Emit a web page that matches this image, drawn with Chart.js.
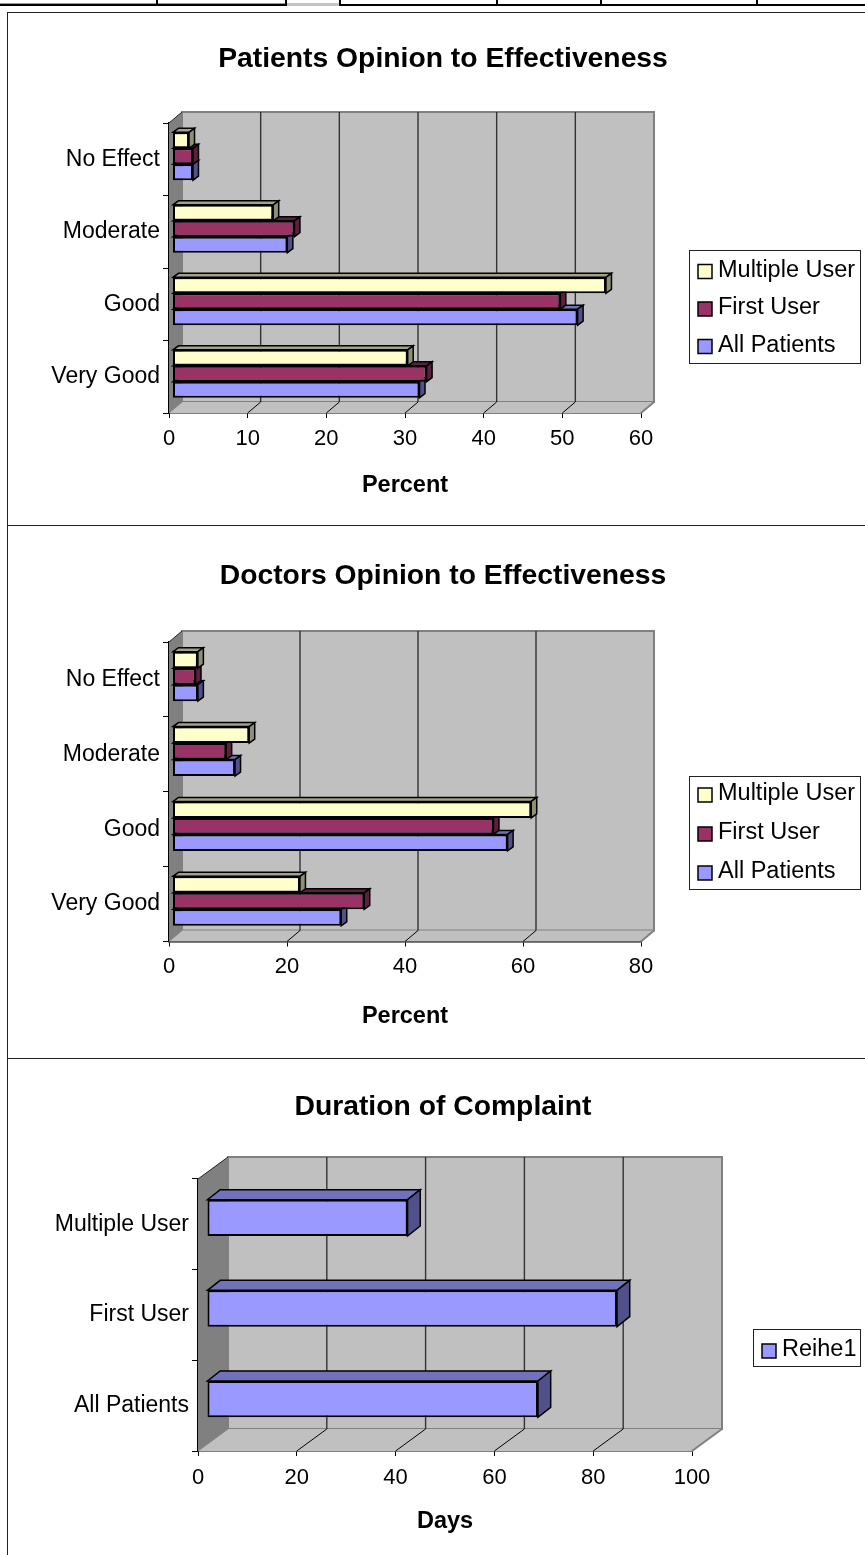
<!DOCTYPE html>
<html>
<head>
<meta charset="utf-8">
<title>Opinion to Effectiveness</title>
<script src="https://cdn.jsdelivr.net/npm/chart.js@4"></script>
<style>
  html, body { margin: 0; padding: 0; background: #fff; }
  body { position: relative; width: 865px; height: 1555px; overflow: hidden; }
  canvas { position: absolute; left: 21px; }
  .rule { position: absolute; }
</style>
</head>
<body>
<div class="rule" style="left:0;top:3px;width:285px;height:1px;background:#999"></div>
<div class="rule" style="left:0;top:4px;width:287px;height:2px;background:#000"></div>
<div class="rule" style="left:156px;top:0;width:2px;height:5px;background:#000"></div>
<div class="rule" style="left:285px;top:0;width:2px;height:5px;background:#000"></div>
<div class="rule" style="left:287px;top:3px;width:52px;height:3px;background:#c4c4c4"></div>
<div class="rule" style="left:339px;top:0;width:2px;height:5px;background:#000"></div>
<div class="rule" style="left:339px;top:4px;width:526px;height:2px;background:#000"></div>
<div class="rule" style="left:496px;top:0;width:2px;height:5px;background:#000"></div>
<div class="rule" style="left:600px;top:0;width:2px;height:5px;background:#000"></div>
<div class="rule" style="left:756px;top:0;width:2px;height:5px;background:#000"></div>
<div class="rule" style="left:7px;top:12px;width:858px;height:1px;background:#222"></div>
<div class="rule" style="left:7px;top:12px;width:1px;height:1543px;background:#222"></div>
<div class="rule" style="left:7px;top:525px;width:858px;height:1px;background:#222"></div>
<div class="rule" style="left:7px;top:1058px;width:858px;height:1px;background:#222"></div>

<canvas id="patients" width="844" height="511" style="top:14px"></canvas>
<canvas id="doctors" width="844" height="531" style="top:527px"></canvas>
<canvas id="duration" width="844" height="495" style="top:1060px"></canvas>

<script>
// top to bottom, the way the bars stack on the page
const opinionLabels = ["No Effect", "Moderate", "Good", "Very Good"];
const seriesNames = ["Multiple User", "First User", "All Patients"];

const patientsMultiple = [2.1, 12.8, 55.1, 29.9];
const patientsFirst = [2.6, 15.5, 49.3, 32.3];
const patientsAll = [2.6, 14.6, 51.5, 31.4];

const doctorsMultiple = [4.3, 13.0, 60.8, 21.6];
const doctorsFirst = [3.9, 9.1, 54.4, 32.5];
const doctorsAll = [4.3, 10.6, 56.8, 28.6];

const durationLabels = ["Multiple User", "First User", "All Patients"];
const durationDays = [40.6, 83, 67];

const FONT = "'Liberation Sans', Arial, sans-serif";
const FACES = {
  "#ffffcc": { top: "#a3a385", side: "#8f8f75" },
  "#993366": { top: "#5c1f3d", side: "#5c1f3d" },
  "#9999ff": { top: "#7272bc", side: "#50508a" }
};

function poly(ctx, pts, fill, stroke, lw) {
  ctx.beginPath();
  pts.forEach((p, i) => i ? ctx.lineTo(p[0], p[1]) : ctx.moveTo(p[0], p[1]));
  ctx.closePath();
  if (fill) { ctx.fillStyle = fill; ctx.fill(); }
  if (stroke) { ctx.strokeStyle = stroke; ctx.lineWidth = lw; ctx.stroke(); }
}

// back wall, side wall and floor behind the bars
function drawWalls(chart, f) {
  const { ctx, chartArea: a, scales: { x } } = chart;
  const [dx, dy] = f.wall;
  ctx.save();
  poly(ctx, [[a.left + dx, a.top - dy], [a.right + dx, a.top - dy], [a.right + dx, a.bottom - dy], [a.left + dx, a.bottom - dy]], "#c0c0c0", "#808080", 2);
  poly(ctx, [[a.left, a.bottom], [a.right, a.bottom], [a.right + dx, a.bottom - dy], [a.left + dx, a.bottom - dy]], "#c0c0c0", null, 0);
  ctx.strokeStyle = "#808080"; ctx.lineWidth = 2;
  ctx.beginPath(); ctx.moveTo(a.right, a.bottom); ctx.lineTo(a.right + dx, a.bottom - dy); ctx.stroke();
  poly(ctx, [[a.left, a.top], [a.left + dx, a.top - dy], [a.left + dx, a.bottom - dy], [a.left, a.bottom]], "#808080", null, 0);
  ctx.strokeStyle = "#222"; ctx.lineWidth = 1;
  ctx.beginPath(); ctx.moveTo(a.left, a.top); ctx.lineTo(a.left + dx, a.top - dy); ctx.stroke();
  ctx.beginPath(); ctx.moveTo(a.left, a.bottom); ctx.lineTo(a.left + dx, a.bottom - dy); ctx.strokeStyle = "#808080"; ctx.stroke();
  x.ticks.forEach((t) => {
    if (t.value === x.min || t.value === x.max) return;
    const px = x.getPixelForValue(t.value);
    ctx.strokeStyle = "#333"; ctx.lineWidth = 1.4;
    ctx.beginPath(); ctx.moveTo(px + dx, a.top - dy); ctx.lineTo(px + dx, a.bottom - dy); ctx.stroke();
    ctx.strokeStyle = "#000"; ctx.lineWidth = 1;
    ctx.beginPath(); ctx.moveTo(px, a.bottom); ctx.lineTo(px + dx, a.bottom - dy); ctx.stroke();
  });
  ctx.restore();
}

function drawLegend(chart, f) {
  const { ctx } = chart;
  const [l, t, w, h] = f.legend;
  ctx.save();
  ctx.fillStyle = "#fff"; ctx.fillRect(l, t, w, h);
  ctx.strokeStyle = "#222"; ctx.lineWidth = 1; ctx.strokeRect(l + .5, t + .5, w - 1, h - 1);
  ctx.font = "23.5px " + FONT; ctx.textBaseline = "middle";
  chart.data.datasets.forEach((ds, i) => {
    const cy = t + f.legendFirst + i * f.legendStep;
    ctx.fillStyle = ds.backgroundColor; ctx.fillRect(l + 9, cy - 6, 14, 14);
    ctx.strokeStyle = "#000"; ctx.lineWidth = 1.5; ctx.strokeRect(l + 9, cy - 6, 14, 14);
    ctx.fillStyle = "#000"; ctx.fillText(ds.label, l + 29, cy);
  });
  ctx.restore();
}

const box3d = {
  id: "box3d",
  beforeDatasetsDraw(chart) { drawWalls(chart, chart.options.frame); },
  beforeDatasetDraw(chart, args) {
    const f = chart.options.frame, { ctx } = chart;
    ctx.save();
    ctx.translate(f.barShift[0], f.barShift[1]);
    const [ex, ey] = f.extrude;
    const faces = FACES[chart.data.datasets[args.index].backgroundColor];
    args.meta.data.forEach((bar) => {
      const { x, y, base, height } = bar.getProps(["x", "y", "base", "height"], true);
      const top = y - height / 2, bot = y + height / 2;
      poly(ctx, [[base, top], [x, top], [x + ex, top - ey], [base + ex, top - ey]], faces.top, "#000", 1.5);
      poly(ctx, [[x, top], [x + ex, top - ey], [x + ex, bot - ey], [x, bot]], faces.side, "#000", 1.5);
    });
  },
  afterDatasetDraw(chart) { chart.ctx.restore(); },
  afterDraw(chart) { drawLegend(chart, chart.options.frame); }
};
Chart.register(box3d);

function makeChart(id, title, axisTitle, labels, names, rows, colors, xMax, xStep, f) {
  const canvas = document.getElementById(id);
  const W = canvas.width, H = canvas.height, lh = 34;
  const axisLh = 26;
  return new Chart(canvas, {
    type: "bar",
    data: {
      labels,
      datasets: rows.map((data, i) => ({
        label: names[i], data,
        backgroundColor: colors[i], borderColor: "#000", borderWidth: 2, borderSkipped: false,
        barPercentage: 1, categoryPercentage: f.catShare, clip: false
      }))
    },
    options: {
      indexAxis: "y", responsive: false, animation: false, devicePixelRatio: 1,
      frame: f,
      layout: { padding: 0 },
      plugins: {
        legend: { display: false }, tooltip: { enabled: false },
        title: {
          display: true, text: title, color: "#000",
          font: { family: FONT, size: f.titleSize, weight: "bold", lineHeight: lh / f.titleSize },
          padding: { top: f.titleY - lh / 2, bottom: f.area[1] - f.titleY - lh / 2 }
        }
      },
      scales: {
        x: {
          min: 0, max: xMax,
          ticks: { stepSize: xStep, color: "#000", font: { family: FONT, size: 22 }, padding: f.tickPad, maxRotation: 0 },
          grid: { drawOnChartArea: false, color: "#000", tickLength: 5, lineWidth: 1 },
          border: { color: "#000", width: 1.5 },
          title: {
            display: true, text: axisTitle, color: "#000",
            font: { family: FONT, size: f.axisSize, weight: "bold", lineHeight: axisLh / f.axisSize },
            padding: { top: 0, bottom: H - f.axisY - axisLh / 2 }
          },
          afterFit(s) { s.height = H - f.area[3]; }
        },
        y: {
          ticks: { color: "#000", font: { family: FONT, size: 23 }, padding: 3, autoSkip: false },
          grid: { drawOnChartArea: false, color: "#000", tickLength: 6, lineWidth: 1 },
          border: { color: "#000", width: 1.5 },
          afterFit(s) { s.width = f.area[0]; }
        },
        // empty right axis, only holds the room for the wall depth and the legend
        gutter: {
          type: "linear", position: "right", display: true,
          ticks: { display: false }, grid: { display: false }, border: { display: false },
          afterFit(s) { s.width = W - f.area[2]; }
        }
      }
    }
  });
}

// all of this in canvas pixels
const small = { wall: [13, 11], barShift: [3.5, -3], extrude: [5.5, 4], catShare: 0.66, titleSize: 28.3, axisSize: 23.5 };
const COLORS3 = ["#ffffcc", "#993366", "#9999ff"];

makeChart("patients", "Patients Opinion to Effectiveness", "Percent", opinionLabels, seriesNames,
  [patientsMultiple, patientsFirst, patientsAll], COLORS3, 60, 10,
  { ...small, area: [148, 109, 620, 399], titleY: 45, axisY: 472, tickPad: 8, legend: [668, 236, 172, 114], legendFirst: 20.5, legendStep: 37.5 });

makeChart("doctors", "Doctors Opinion to Effectiveness", "Percent", opinionLabels, seriesNames,
  [doctorsMultiple, doctorsFirst, doctorsAll], COLORS3, 80, 20,
  { ...small, area: [148, 115, 620, 414.5], titleY: 49, axisY: 490, tickPad: 7, legend: [668, 249, 172, 114], legendFirst: 18, legendStep: 39 });

makeChart("duration", "Duration of Complaint", "Days", durationLabels, ["Reihe1"],
  [durationDays], ["#9999ff"], 100, 20,
  { wall: [30, 22], barShift: [9, -6.5], extrude: [12.7, 10], catShare: 0.4, titleSize: 28.3, axisSize: 23.5, tickPad: 9,
    area: [177, 119, 671, 391], titleY: 47, axisY: 462, legend: [732, 269, 108, 38], legendFirst: 21, legendStep: 0 });
</script>
</body>
</html>
